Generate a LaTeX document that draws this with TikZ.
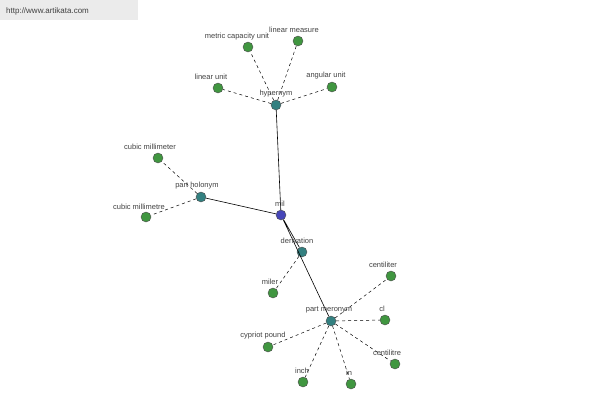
\documentclass[tikz,border=0pt]{standalone}
\usepackage{fontspec}
\setmainfont{Liberation Sans}
\begin{document}
\begin{tikzpicture}[x=1pt,y=-1pt,
  dot/.style={circle,draw=black!70,line width=0.4pt,minimum size=10pt,inner sep=0pt},
  leaf/.style={dot,fill=green!45!black!75},
  hub/.style={dot,fill=teal!60!gray},
  root/.style={dot,fill=blue!45!gray},
  lab/.style={font=\fontsize{7.5}{9}\selectfont,text=black!75,inner sep=0pt},
  solidlink/.style={draw=black,line width=0.6pt},
  dashlink/.style={draw=black,dashed,line width=0.5pt}]
\useasboundingbox (0,0) rectangle (600,400);
\fill[black!8] (0,0) rectangle (138,20);
\node[lab,anchor=west,font=\fontsize{8}{10}\selectfont] (url) at (6,11) {http://www.artikata.com};
% nodes
\node[root] (mil) at (281,215) {};
\node[hub] (hyp) at (276,105) {};
\node[hub] (ph) at (201,197) {};
\node[hub] (der) at (302,252) {};
\node[hub] (pm) at (331,321) {};
\node[leaf] (mcu) at (248,47) {};
\node[leaf] (lm) at (298,41) {};
\node[leaf] (lu) at (218,88) {};
\node[leaf] (au) at (332,87) {};
\node[leaf] (cmr) at (158,158) {};
\node[leaf] (cme) at (146,217) {};
\node[leaf] (miler) at (273,293) {};
\node[leaf] (cer) at (391,276) {};
\node[leaf] (cl) at (385,320) {};
\node[leaf] (cre) at (395,364) {};
\node[leaf] (cp) at (268,347) {};
\node[leaf] (inch) at (303,382) {};
\node[leaf] (in) at (351,384) {};
% links
\begin{scope}[on background layer/.style={}]
\end{scope}
\path[solidlink] (mil) -- (hyp) (mil) -- (ph) (mil) -- (der) (mil) -- (pm);
\path[dashlink] (hyp) -- (mcu) (hyp) -- (lm) (hyp) -- (lu) (hyp) -- (au)
  (ph) -- (cmr) (ph) -- (cme) (der) -- (miler)
  (pm) -- (cer) (pm) -- (cl) (pm) -- (cre) (pm) -- (cp) (pm) -- (inch) (pm) -- (in);
% labels
\node[lab] (lmil) at (280,204) {mil};
\node[lab] (lhyp) at (276,94) {hypernym};
\node[lab] (lph) at (197,186) {part holonym};
\node[lab] (lder) at (297,241) {derivation};
\node[lab] (lpm) at (329,310) {part meronym};
\node[lab] (lmcu) at (237,37) {metric capacity unit};
\node[lab] (llm) at (294,30) {linear measure};
\node[lab] (llu) at (211,77) {linear unit};
\node[lab] (lau) at (326,76) {angular unit};
\node[lab] (lcmr) at (150,147) {cubic millimeter};
\node[lab] (lcme) at (139,207) {cubic millimetre};
\node[lab] (lmiler) at (270,282) {miler};
\node[lab] (lcer) at (383,265) {centiliter};
\node[lab] (lcl) at (382,309) {cl};
\node[lab] (lcre) at (387,353) {centilitre};
\node[lab] (lcp) at (263,336) {cypriot pound};
\node[lab] (linch) at (302,371) {inch};
\node[lab] (lin) at (349,373) {in};
\end{tikzpicture}
\end{document}
